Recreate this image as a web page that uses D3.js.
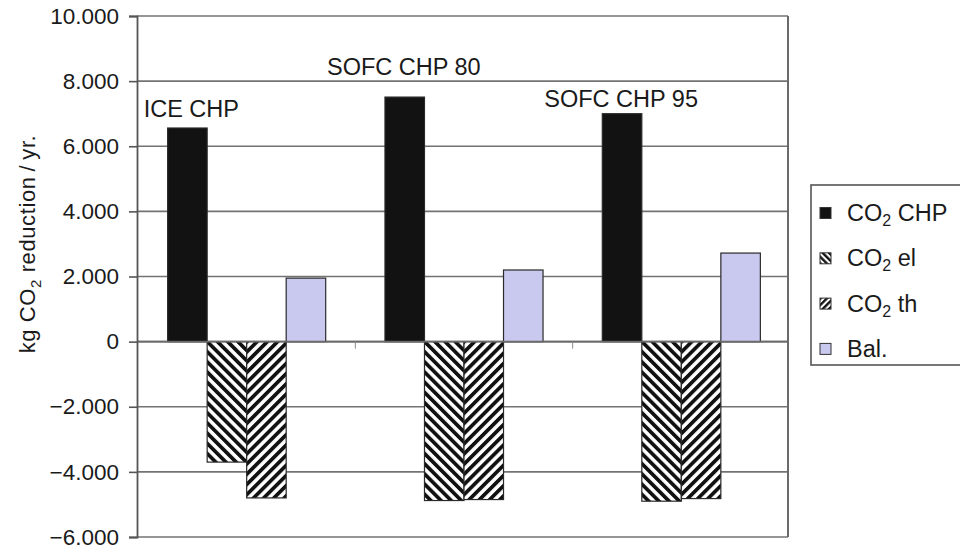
<!DOCTYPE html>
<html>
<head>
<meta charset="utf-8">
<script src="https://cdn.jsdelivr.net/npm/d3@7"></script>
<style>
  body { margin: 0; background: #fff; }
  svg { display: block; }
  text { font-family: "Liberation Sans", Arial, sans-serif; fill: #1a1a1a; }
</style>
</head>
<body>
<svg id="chart" width="960" height="549"></svg>
<script>
// ---- data ----
const categories = ["ICE CHP", "SOFC CHP 80", "SOFC CHP 95"];
const seriesKeys = ["chp", "el", "th", "bal"];
const co2CHP  = [6560, 7510, 7000];
const co2El   = [-3700, -4880, -4900];
const co2Th   = [-4800, -4850, -4820];
const balance = [1950, 2200, 2720];
const yTickValues = [-6000, -4000, -2000, 0, 2000, 4000, 6000, 8000, 10000];
const yTickLabels = ["\u22126.000", "\u22124.000", "\u22122.000", "0", "2.000", "4.000", "6.000", "8.000", "10.000"];
const legendMain = ["CO", "CO", "CO", "Bal."];
const legendSub  = ["2", "2", "2", ""];
const legendRest = [" CHP", " el", " th", ""];

// ---- layout ----
const W = 960, H = 549;
const plotLeft = 137, plotRight = 788, plotTop = 16, plotBottom = 537;
// free-standing category captions: offset from the group's left edge and baseline y
const captionLayout = [
  { dx: -24, y: 117 },
  { dx: -58, y: 75 },
  { dx: -58, y: 107 }
];

const svg = d3.select("#chart");

const seriesValues = { chp: co2CHP, el: co2El, th: co2Th, bal: balance };
const rows = categories.map((c, i) => ({
  cat: c,
  values: seriesKeys.map(k => ({ key: k, value: seriesValues[k][i] }))
}));

const y = d3.scaleLinear().domain([-6000, 10000]).range([plotBottom, plotTop]);
const x0 = d3.scaleBand().domain(categories).range([plotLeft + 1, plotRight + 2]);
const x1 = d3.scaleBand().domain(seriesKeys).range([0, x0.bandwidth()])
  .paddingInner(0).paddingOuter(0.75);

// ---- hatch patterns ----
const defs = svg.append("defs");
function hatch(id, angle, size, ink) {
  const p = defs.append("pattern")
    .attr("id", id)
    .attr("patternUnits", "userSpaceOnUse")
    .attr("width", size).attr("height", size)
    .attr("patternTransform", `rotate(${angle})`);
  p.append("rect").attr("width", size).attr("height", size).attr("fill", "#fff");
  p.append("rect").attr("width", ink).attr("height", size).attr("fill", "#111");
}
hatch("hatchEl", -45, 7.2, 3.7);
hatch("hatchTh", 45, 7.2, 3.7);
hatch("hatchElS", -45, 4.5, 2.4);
hatch("hatchThS", 45, 4.5, 2.4);

const fills = { chp: "#121212", el: "url(#hatchEl)", th: "url(#hatchTh)", bal: "#c9c9ef" };
const legendFills = { chp: "#121212", el: "url(#hatchElS)", th: "url(#hatchThS)", bal: "#c9c9ef" };

// ---- gridlines ----
svg.append("g").selectAll("line")
  .data(yTickValues)
  .join("line")
  .attr("x1", plotLeft).attr("x2", plotRight)
  .attr("y1", d => y(d)).attr("y2", d => y(d))
  .attr("stroke", "#737373").attr("stroke-width", 1.6);

// right frame edge
svg.append("line")
  .attr("x1", plotRight).attr("x2", plotRight)
  .attr("y1", plotTop).attr("y2", plotBottom)
  .attr("stroke", "#6a6a6a").attr("stroke-width", 2);

// ---- bars ----
const groups = svg.append("g").selectAll("g")
  .data(rows)
  .join("g")
  .attr("transform", d => `translate(${x0(d.cat)},0)`);

groups.selectAll("rect")
  .data(d => d.values)
  .join("rect")
  .attr("x", d => x1(d.key))
  .attr("width", x1.bandwidth())
  .attr("y", d => y(Math.max(0, d.value)))
  .attr("height", d => Math.abs(y(d.value) - y(0)))
  .attr("fill", d => fills[d.key])
  .attr("stroke", "#2a2a2a")
  .attr("stroke-width", 1.2);

// ---- zero line and category ticks ----
svg.append("line")
  .attr("x1", plotLeft).attr("x2", plotRight)
  .attr("y1", y(0)).attr("y2", y(0))
  .attr("stroke", "#6a6a6a").attr("stroke-width", 1.6);

svg.append("g").selectAll("line")
  .data(categories.slice(1))
  .join("line")
  .attr("x1", d => x0(d)).attr("x2", d => x0(d))
  .attr("y1", y(0)).attr("y2", y(0) + 7)
  .attr("stroke", "#8a8a8a").attr("stroke-width", 1);

// ---- y axis ----
const yAxis = d3.axisLeft(y)
  .tickValues(yTickValues)
  .tickFormat((d, i) => yTickLabels[i])
  .tickSize(8)
  .tickPadding(10);

const yAxisG = svg.append("g")
  .attr("transform", `translate(${plotLeft},0)`)
  .call(yAxis);
yAxisG.select(".domain").attr("stroke", "#555").attr("stroke-width", 1.8);
yAxisG.selectAll(".tick line").attr("stroke", "#555").attr("stroke-width", 1.6);
yAxisG.selectAll(".tick text")
  .attr("font-family", "Liberation Sans, Arial, sans-serif")
  .attr("font-size", 22.5)
  .attr("fill", "#1a1a1a");

// y axis title with subscript
const yTitle = svg.append("text")
  .attr("transform", `translate(35,${244}) rotate(-90)`)
  .attr("text-anchor", "middle")
  .attr("font-size", 22)
  .attr("letter-spacing", 0.6);
yTitle.append("tspan").text("kg CO");
yTitle.append("tspan").attr("font-size", 15).attr("dy", 6).text("2");
yTitle.append("tspan").attr("dy", -6).text(" reduction\u2009/\u2009yr.");

// ---- category captions ----
svg.append("g").selectAll("text")
  .data(categories)
  .join("text")
  .attr("x", (d, i) => x0(d) + x1("chp") + captionLayout[i].dx)
  .attr("y", (d, i) => captionLayout[i].y)
  .attr("font-size", 23.5)
  .text(d => d);

// ---- legend ----
const legend = svg.append("g");
legend.append("rect")
  .attr("x", 811).attr("y", 185)
  .attr("width", 220).attr("height", 180)
  .attr("fill", "#fff")
  .attr("stroke", "#555").attr("stroke-width", 1.6);

const legendRows = legend.selectAll("g")
  .data(seriesKeys)
  .join("g")
  .attr("transform", (d, i) => `translate(820,${213 + i * 45.3})`);

legendRows.append("rect")
  .attr("x", 0).attr("y", -5.5)
  .attr("width", 11).attr("height", 11)
  .attr("fill", d => legendFills[d])
  .attr("stroke", "#333").attr("stroke-width", 1);

const lt = legendRows.append("text")
  .attr("x", 27).attr("y", 8)
  .attr("font-size", 23.5);
lt.append("tspan").text((d, i) => legendMain[i]);
lt.append("tspan").attr("font-size", 16).attr("dy", 5).text((d, i) => legendSub[i]);
lt.append("tspan").attr("dy", -5).text((d, i) => legendRest[i]);
</script>
</body>
</html>
